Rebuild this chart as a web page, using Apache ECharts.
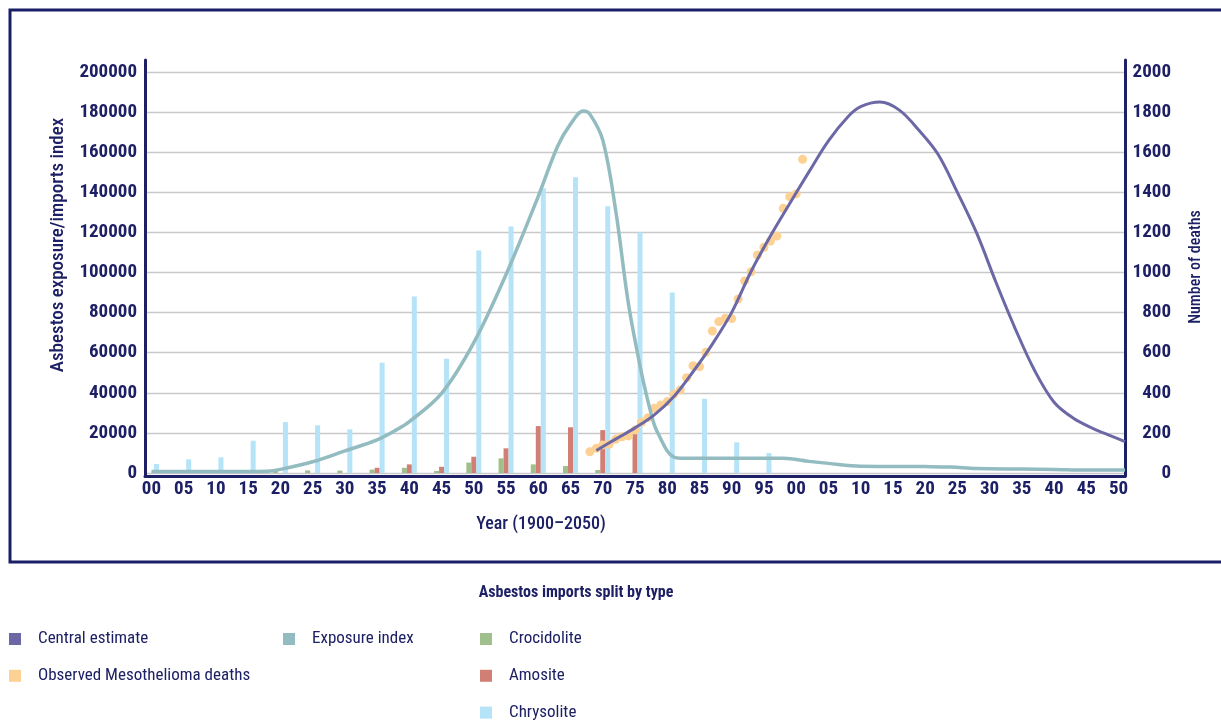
<!DOCTYPE html>
<html>
<head>
<meta charset="utf-8">
<script src="https://cdn.jsdelivr.net/npm/echarts@6/dist/echarts.min.js"></script>
<style>
  html, body { margin: 0; padding: 0; background: #fff; }
  #chart { width: 1221px; height: 722px; }
</style>
</head>
<body>
<div id="chart"></div>
<script>
const FONT = "'Roboto Condensed', 'DejaVu Sans Condensed', sans-serif"
const NAVY = "#1d2064"

const yearTicks = [1900, 1905, 1910, 1915, 1920, 1925, 1930, 1935, 1940, 1945, 1950, 1955, 1960,
  1965, 1970, 1975, 1980, 1985, 1990, 1995, 2000, 2005, 2010, 2015, 2020, 2025, 2030, 2035, 2040, 2045, 2050]

const importYears = [1900, 1905, 1910, 1915, 1920, 1925, 1930, 1935, 1940, 1945,
  1950, 1955, 1960, 1965, 1970, 1975, 1980, 1985, 1990, 1995]
const crocidolite = [null, null, null, null, 1100, 1300, 1200, 1700, 2600, 1000,
  5200, 7300, 4300, 3500, 1500, null, null, null, null, null]
const amosite = [null, null, null, null, null, null, null, 2600, 4300, 3100,
  8100, 12300, 23400, 22800, 21400, 20800, null, null, null, null]
const chrysolite = [4500, 6800, 7800, 16100, 25400, 23800, 21800, 55000, 88000, 57000,
  111000, 123000, 142000, 147500, 133000, 120000, 90000, 37000, 15300, 10000]

const exposureYears = [1900, 1905, 1910, 1915, 1918, 1920, 1925, 1930, 1935, 1938, 1940, 1945,
  1950, 1955, 1960, 1963, 1965, 1967, 1968, 1970, 1972, 1974, 1976, 1977, 1978, 1979, 1980, 1981,
  1982, 1985, 1990, 1998, 2002, 2005, 2010, 2020, 2024, 2028, 2035, 2040, 2045, 2051]
const exposureIndex = [800, 800, 800, 800, 900, 1800, 5600, 11000, 16500, 21500, 25600, 39700,
  65000, 99000, 138000, 163000, 174000, 180500, 179000, 166000, 131000, 84000, 50000, 36000, 24000, 17000, 11000, 8000,
  7400, 7400, 7400, 7400, 5800, 4800, 3400, 3200, 3000, 2200, 2000, 1800, 1500, 1500]

const estimateYears = [1969, 1972, 1975, 1978, 1981, 1984, 1987, 1990, 1993, 1996, 1999, 2002,
  2005, 2008, 2010, 2013, 2016, 2019, 2022, 2025, 2028, 2031, 2034, 2037, 2040, 2043, 2046, 2049, 2051]
const centralEstimate = [112, 169, 225, 290, 380, 505, 643, 801, 1005, 1182, 1344, 1503,
  1657, 1776, 1827, 1850, 1810, 1711, 1590, 1400, 1196, 950, 718, 510, 353, 273, 223, 183, 157]

const observedYears = [1968, 1969, 1970, 1971, 1972, 1973, 1974, 1975, 1976, 1977, 1978, 1979,
  1980, 1981, 1982, 1983, 1984, 1985, 1986, 1987, 1988, 1989, 1990, 1991, 1992, 1993, 1994,
  1995, 1996, 1997, 1998, 1999, 2000, 2001]
const observedDeaths = [106, 123, 140, 143, 168, 181, 185, 214, 253, 276, 323, 339,
  356, 393, 414, 475, 535, 530, 602, 708, 755, 772, 770, 868, 958, 1004, 1087,
  1126, 1157, 1182, 1320, 1378, 1392, 1565]

const pairs = (xs, ys) => xs.map((x, i) => [x, ys[i]])

const chart = echarts.init(document.getElementById("chart"))

const hiddenAxis = {
  axisTick: { show: false },
  axisLabel: { show: false },
  splitLine: { show: false }
}
const frameLine = { show: true, onZero: false, lineStyle: { color: NAVY, width: 3 } }
const tickText = { color: NAVY, fontSize: 19, fontWeight: "bold", fontFamily: FONT }
const legendText = { color: NAVY, fontSize: 17, fontFamily: FONT, lineHeight: 18, padding: [0, 0, 0, 12] }

const barBase = { type: "bar", xAxisIndex: 1, yAxisIndex: 2, barWidth: 5, barGap: "0%" }

chart.setOption({
  animation: false,
  textStyle: { fontFamily: FONT },
  grid: [
    { left: 145, right: 96, top: 60, bottom: 246 },
    { left: 145, right: 96, top: 72, bottom: 249 }
  ],
  xAxis: [
    { gridIndex: 0, type: "value", min: 0, max: 1, axisLine: frameLine, ...hiddenAxis },
    {
      gridIndex: 1, type: "value", min: 1899, max: 2051,
      axisLine: { show: false, onZero: false },
      axisTick: { show: false },
      splitLine: { show: false },
      axisLabel: {
        ...tickText, margin: 7,
        customValues: yearTicks,
        formatter: v => String(v % 100).padStart(2, "0")
      }
    }
  ],
  yAxis: [
    { gridIndex: 0, type: "value", position: "left", min: 0, max: 1, axisLine: frameLine, ...hiddenAxis },
    { gridIndex: 0, type: "value", position: "right", min: 0, max: 1, axisLine: frameLine, ...hiddenAxis },
    {
      gridIndex: 1, type: "value", position: "left", min: 0, max: 200000, interval: 20000,
      axisLine: { show: false, onZero: false },
      axisTick: { show: false },
      axisLabel: { ...tickText, margin: 8, formatter: v => String(v) },
      splitLine: { lineStyle: { color: "#c9c9c9", width: 1.3 } }
    },
    {
      gridIndex: 1, type: "value", position: "right", min: 0, max: 2000, interval: 200,
      axisLine: { show: false, onZero: false },
      axisTick: { show: false },
      axisLabel: { ...tickText, margin: 46, align: "right", formatter: v => String(v) },
      splitLine: { show: false }
    }
  ],
  legend: [
    {
      left: 9, top: 630, padding: 0, orient: "vertical", itemGap: 18.8,
      icon: "rect", itemWidth: 12, itemHeight: 12, textStyle: legendText,
      data: ["Central estimate", "Observed Mesothelioma deaths"]
    },
    {
      left: 283, top: 630, padding: 0, orient: "vertical",
      icon: "rect", itemWidth: 12, itemHeight: 12, textStyle: legendText,
      data: ["Exposure index"]
    },
    {
      left: 480, top: 630, padding: 0, orient: "vertical", itemGap: 18.8,
      icon: "rect", itemWidth: 12, itemHeight: 12, textStyle: legendText,
      data: ["Crocidolite", "Amosite", "Chrysolite"]
    }
  ],
  graphic: [
    {
      type: "rect", silent: true,
      shape: { x: 10, y: 10, width: 1240, height: 552 },
      style: { fill: "none", stroke: "#1a1e66", lineWidth: 3 }
    },
    {
      type: "text", x: 541, y: 524,
      style: { text: "Year (1900\u20132050)", fill: NAVY, font: "500 18px " + FONT, align: "center", verticalAlign: "middle" }
    },
    {
      type: "text", x: 58, y: 245, rotation: Math.PI / 2,
      style: { text: "Asbestos exposure/imports index", fill: NAVY, font: "500 19px " + FONT, align: "center", verticalAlign: "middle" }
    },
    {
      type: "text", x: 1196, y: 267, rotation: Math.PI / 2,
      style: { text: "Number of deaths", fill: NAVY, font: "500 16px " + FONT, align: "center", verticalAlign: "middle" }
    },
    {
      type: "text", x: 576, y: 593,
      style: { text: "Asbestos imports split by type", fill: NAVY, font: "bold 16px " + FONT, align: "center", verticalAlign: "middle" }
    }
  ],
  series: [
    { ...barBase, name: "Crocidolite", itemStyle: { color: "#9fc08c" }, data: pairs(importYears, crocidolite) },
    { ...barBase, name: "Amosite", itemStyle: { color: "#d17f75" }, data: pairs(importYears, amosite) },
    { ...barBase, name: "Chrysolite", itemStyle: { color: "#b5e3f7" }, data: pairs(importYears, chrysolite) },
    {
      type: "line", name: "Exposure index", xAxisIndex: 1, yAxisIndex: 2,
      smooth: 0.35, showSymbol: false, symbol: "none",
      itemStyle: { color: "#93bcc1" },
      lineStyle: { color: "#93bcc1", width: 3.5 },
      data: pairs(exposureYears, exposureIndex)
    },
    {
      type: "line", name: "Central estimate", xAxisIndex: 1, yAxisIndex: 3,
      smooth: 0.35, showSymbol: false, symbol: "none",
      itemStyle: { color: "#6c68a6" },
      lineStyle: { color: "#6c68a6", width: 3 },
      data: pairs(estimateYears, centralEstimate)
    },
    {
      type: "scatter", name: "Observed Mesothelioma deaths", xAxisIndex: 1, yAxisIndex: 3,
      symbolSize: 9, itemStyle: { color: "#fdd193", opacity: 1 },
      data: pairs(observedYears, observedDeaths)
    }
  ]
})
</script>
</body>
</html>
